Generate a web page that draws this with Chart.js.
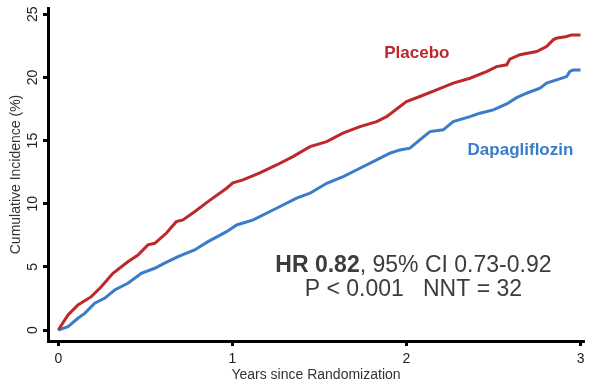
<!DOCTYPE html>
<html>
<head>
<meta charset="utf-8">
<script src="https://cdn.jsdelivr.net/npm/chart.js@4.4.1/dist/chart.umd.min.js"></script>
<style>
  html, body { margin: 0; padding: 0; background: #fff; }
  canvas { display: block; }
</style>
</head>
<body>
<canvas id="myChart" width="591" height="382"></canvas>
<script>
// Cumulative incidence (%) by years since randomization
var placeboYears = [0, 0.056, 0.113, 0.19, 0.247, 0.314, 0.4, 0.458, 0.515, 0.554, 0.62, 0.678, 0.716, 0.783, 0.86,
    0.967, 1.003, 1.061, 1.158, 1.254, 1.348, 1.446, 1.542, 1.635, 1.733, 1.829, 1.886, 1.963, 2.0, 2.077, 2.173,
    2.269, 2.365, 2.46, 2.518, 2.576, 2.594, 2.652, 2.748, 2.805, 2.843, 2.86, 2.92, 2.949, 3.0];
var placeboPct = [0, 1.19, 1.98, 2.64, 3.43, 4.49, 5.41, 5.94, 6.74, 6.87, 7.66, 8.58, 8.72, 9.37, 10.17,
    11.23, 11.65, 11.89, 12.44, 13.07, 13.73, 14.52, 14.92, 15.59, 16.11, 16.5, 16.9, 17.7, 18.09, 18.49, 19.02,
    19.55, 19.94, 20.47, 20.86, 21.0, 21.45, 21.8, 22.05, 22.45, 22.98, 23.1, 23.24, 23.37, 23.37];

var dapaYears = [0, 0.056, 0.113, 0.152, 0.209, 0.266, 0.324, 0.4, 0.477, 0.554, 0.611, 0.688, 0.783, 0.86, 0.967,
    1.025, 1.12, 1.254, 1.369, 1.446, 1.542, 1.637, 1.733, 1.829, 1.905, 1.963, 2.02, 2.077, 2.135, 2.211, 2.269,
    2.365, 2.422, 2.499, 2.576, 2.633, 2.69, 2.767, 2.805, 2.863, 2.92, 2.939, 2.958, 3.0];
var dapaPct = [0, 0.26, 0.93, 1.32, 2.12, 2.51, 3.17, 3.7, 4.49, 4.89, 5.29, 5.81, 6.34, 7.0, 7.79,
    8.32, 8.72, 9.64, 10.44, 10.83, 11.62, 12.15, 12.81, 13.47, 14.0, 14.26, 14.4, 15.06, 15.71, 15.85, 16.5,
    16.9, 17.17, 17.43, 17.9, 18.4, 18.75, 19.15, 19.55, 19.81, 20.07, 20.47, 20.6, 20.6];

var xTicks = [0, 1, 2, 3];
var yTicks = [0, 5, 10, 15, 20, 25];

var seriesNames = ['Placebo', 'Dapagliflozin'];
var hrText = { bold: 'HR 0.82', rest: ', 95% CI 0.73-0.92' };
var pText = 'P < 0.001   NNT = 32';

var RED = '#bd2828';
var BLUE = '#3a7cc8';
var FONT = '"Liberation Sans", Arial, sans-serif';

function toPoints(xs, ys) {
    return xs.map(function (x, i) { return { x: x, y: ys[i] }; });
}

// Rotated y tick labels, curve labels and the HR / NNT note
var textPlugin = {
    id: 'textPlugin',
    afterDraw: function (chart) {
        var ctx = chart.ctx;
        var xs = chart.scales.x, ys = chart.scales.y;
        ctx.save();

        ctx.fillStyle = '#222';
        ctx.font = '14px ' + FONT;
        ctx.textAlign = 'center';
        ctx.textBaseline = 'middle';
        ys.ticks.forEach(function (t) {
            var py = ys.getPixelForValue(t.value);
            ctx.save();
            ctx.translate(33, py);
            ctx.rotate(-Math.PI / 2);
            ctx.fillText(String(t.value), 0, 0);
            ctx.restore();
        });

        ctx.font = 'bold 17px ' + FONT;
        ctx.fillStyle = RED;
        ctx.fillText(seriesNames[0], xs.getPixelForValue(2.06), ys.getPixelForValue(21.9));
        ctx.fillStyle = BLUE;
        ctx.fillText(seriesNames[1], xs.getPixelForValue(2.655), ys.getPixelForValue(14.2));

        // HR line, first part in bold
        var cx = xs.getPixelForValue(2.04);
        ctx.fillStyle = '#3c3c3c';
        ctx.textAlign = 'left';
        ctx.font = 'bold 23px ' + FONT;
        var wb = ctx.measureText(hrText.bold).width;
        ctx.font = '23px ' + FONT;
        var wr = ctx.measureText(hrText.rest).width;
        var x0 = cx - (wb + wr) / 2;
        var y1 = ys.getPixelForValue(5.1);
        ctx.font = 'bold 23px ' + FONT;
        ctx.fillText(hrText.bold, x0, y1);
        ctx.font = '23px ' + FONT;
        ctx.fillText(hrText.rest, x0 + wb, y1);

        ctx.textAlign = 'center';
        ctx.fillText(pText, cx, ys.getPixelForValue(3.2));
        ctx.restore();
    }
};

var ctx = document.getElementById('myChart').getContext('2d');
var myChart = new Chart(ctx, {
    type: 'line',
    data: {
        datasets: [
            {
                label: seriesNames[0],
                data: toPoints(placeboYears, placeboPct),
                borderColor: RED,
                borderWidth: 3,
                pointRadius: 0,
                tension: 0,
                fill: false
            },
            {
                label: seriesNames[1],
                data: toPoints(dapaYears, dapaPct),
                borderColor: BLUE,
                borderWidth: 3,
                pointRadius: 0,
                tension: 0,
                fill: false
            }
        ]
    },
    options: {
        responsive: false,
        animation: false,
        layout: {
            padding: { top: 8, right: 7, left: 0, bottom: 0 }
        },
        plugins: {
            legend: { display: false },
            tooltip: { enabled: false }
        },
        scales: {
            x: {
                type: 'linear',
                min: -0.059,
                max: 3.02,
                afterBuildTicks: function (scale) {
                    scale.ticks = xTicks.map(function (v) { return { value: v }; });
                },
                afterFit: function (scale) { scale.height = 41; },
                border: { display: true, color: '#000', width: 3 },
                grid: {
                    drawOnChartArea: false,
                    drawTicks: true,
                    tickLength: 5,
                    tickWidth: 3,
                    tickColor: '#000'
                },
                ticks: {
                    color: '#222',
                    padding: 5,
                    maxRotation: 0,
                    font: { family: FONT, size: 14 }
                },
                title: {
                    display: true,
                    text: 'Years since Randomization',
                    color: '#333',
                    padding: { top: 0, bottom: 0 },
                    font: { family: FONT, size: 14, lineHeight: 1 }
                }
            },
            y: {
                type: 'linear',
                min: -0.87,
                max: 25.5,
                afterBuildTicks: function (scale) {
                    scale.ticks = yTicks.map(function (v) { return { value: v }; });
                },
                afterFit: function (scale) { scale.width = 48; },
                border: { display: true, color: '#000', width: 3 },
                grid: {
                    drawOnChartArea: false,
                    drawTicks: true,
                    tickLength: 5,
                    tickWidth: 3,
                    tickColor: '#000'
                },
                ticks: { display: false },
                title: {
                    display: true,
                    text: 'Cumulative Incidence (%)',
                    color: '#333',
                    padding: { top: 8, bottom: 0 },
                    font: { family: FONT, size: 14 }
                }
            }
        }
    },
    plugins: [textPlugin]
});
</script>
</body>
</html>
